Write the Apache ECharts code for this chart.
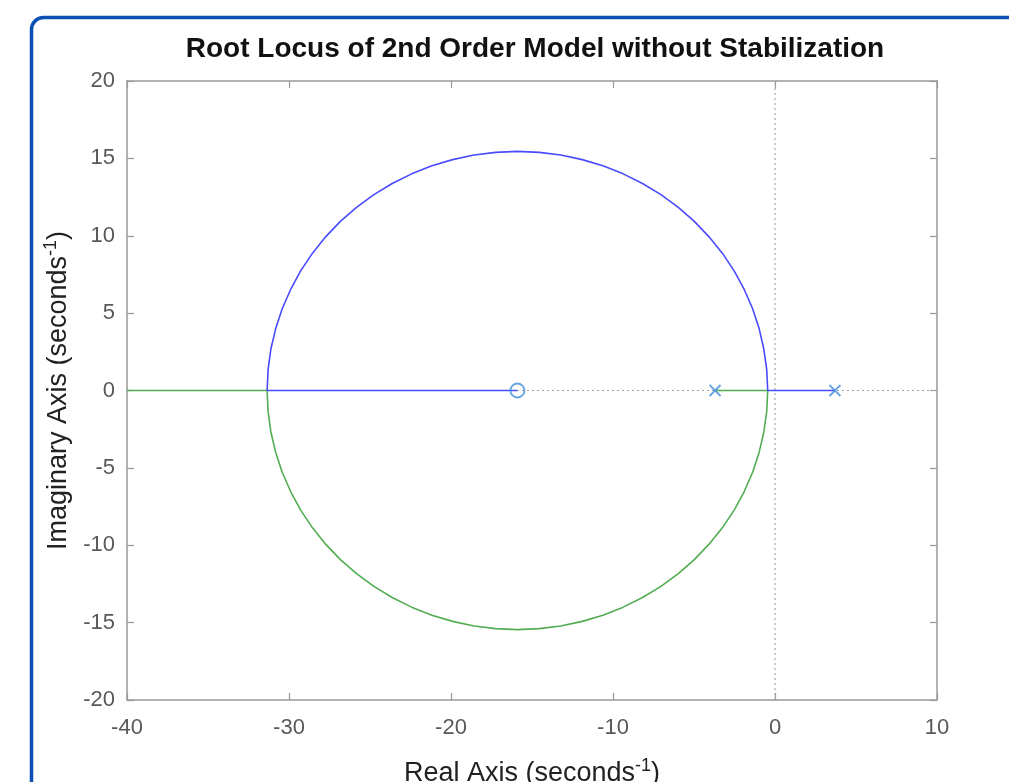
<!DOCTYPE html>
<html>
<head>
<meta charset="utf-8">
<script src="https://cdn.jsdelivr.net/npm/echarts@6/dist/echarts.min.js"></script>
<style>
html,body{margin:0;padding:0;background:#fff;}
#main{width:1009px;height:782px;}
</style>
</head>
<body>
<div id="main"></div>
<script>
// root locus
var zeroPt = [[-15.9, 0]];
var polePts = [[-3.7, 0], [3.7, 0]];
// blue branch: pole +3.7 -> breakaway -> upper arc -> break-in -> zero
var blueBranch = [
    [3.7, 0], [-0.45, 0], [-0.51, 1.35], [-0.69, 2.68], [-0.98, 4.0], [-1.38, 5.28],
    [-1.9, 6.53], [-2.52, 7.73], [-3.24, 8.86], [-4.07, 9.93], [-4.98, 10.93],
    [-5.97, 11.84], [-7.04, 12.66], [-8.18, 13.38], [-9.37, 14.0], [-10.62, 14.52],
    [-11.9, 14.92], [-13.22, 15.22], [-14.55, 15.39], [-15.9, 15.45], [-17.25, 15.39],
    [-18.58, 15.22], [-19.9, 14.92], [-21.18, 14.52], [-22.43, 14.0], [-23.63, 13.38],
    [-24.76, 12.66], [-25.83, 11.84], [-26.83, 10.93], [-27.74, 9.93], [-28.56, 8.86],
    [-29.28, 7.73], [-29.9, 6.53], [-30.42, 5.28], [-30.82, 4.0], [-31.12, 2.68],
    [-31.29, 1.35], [-31.35, 0], [-15.9, 0]
];
// green branch: pole -3.7 -> breakaway -> lower arc -> break-in -> -inf
var greenBranch = [
    [-3.7, 0], [-0.45, 0], [-0.51, -1.35], [-0.69, -2.68], [-0.98, -4.0], [-1.38, -5.28],
    [-1.9, -6.53], [-2.52, -7.73], [-3.24, -8.86], [-4.07, -9.93], [-4.98, -10.93],
    [-5.97, -11.84], [-7.04, -12.66], [-8.18, -13.38], [-9.37, -14.0], [-10.62, -14.52],
    [-11.9, -14.92], [-13.22, -15.22], [-14.55, -15.39], [-15.9, -15.45], [-17.25, -15.39],
    [-18.58, -15.22], [-19.9, -14.92], [-21.18, -14.52], [-22.43, -14.0], [-23.63, -13.38],
    [-24.76, -12.66], [-25.83, -11.84], [-26.83, -10.93], [-27.74, -9.93], [-28.56, -8.86],
    [-29.28, -7.73], [-29.9, -6.53], [-30.42, -5.28], [-30.82, -4.0], [-31.12, -2.68],
    [-31.29, -1.35], [-31.35, 0], [-40, 0]
];
var realZeroLine = [[-40, 0], [10, 0]];
var imagZeroLine = [[0, -20], [0, 20]];

var chart = echarts.init(document.getElementById('main'));
var axisGray = '#999';
var labelGray = '#595959';
var markBlue = '#3d8fd8';

function boxAxis(extra) {
    var a = {
        type: 'value',
        axisLine: {show: true, onZero: false, lineStyle: {color: axisGray, width: 1.5}},
        axisTick: {show: true, inside: true, length: 7, lineStyle: {color: axisGray, width: 1.2}},
        splitLine: {show: false},
        axisLabel: {show: false}
    };
    for (var k in extra) a[k] = extra[k];
    return a;
}

var option = {
    backgroundColor: '#fff',
    animation: false,
    title: {
        text: 'Root Locus of 2nd Order Model without Stabilization',
        left: 530, top: 30, textAlign: 'center',
        textStyle: {fontFamily: 'Liberation Sans', fontWeight: 'bold', fontSize: 28, color: '#111'}
    },
    grid: {left: 127, right: 72, top: 81, bottom: 82, containLabel: false, outerBoundsMode: 'none'},
    xAxis: [
        boxAxis({min: -40, max: 10, interval: 10, position: 'bottom',
            axisLabel: {show: true, margin: 17, color: labelGray, fontSize: 22, fontFamily: 'Liberation Sans'},
            name: 'Real Axis (seconds{sup|-1})', nameLocation: 'middle', nameGap: 57,
            nameTextStyle: {fontSize: 27, color: '#222', fontFamily: 'Liberation Sans',
                rich: {sup: {fontSize: 18, color: '#222', fontFamily: 'Liberation Sans', padding: [0, 0, 16, 0]}}}
        }),
        boxAxis({min: -40, max: 10, interval: 10, position: 'top'})
    ],
    yAxis: [
        boxAxis({min: -20, max: 20, interval: 5, position: 'left',
            axisLabel: {show: true, margin: 12, color: labelGray, fontSize: 22, fontFamily: 'Liberation Sans'},
            name: 'Imaginary Axis (seconds{sup|-1})', nameLocation: 'middle', nameGap: 47, nameRotate: 90,
            nameTextStyle: {fontSize: 27, color: '#222', fontFamily: 'Liberation Sans',
                rich: {sup: {fontSize: 18, color: '#222', fontFamily: 'Liberation Sans', padding: [0, 0, 16, 0]}}}
        }),
        boxAxis({min: -20, max: 20, interval: 5, position: 'right'})
    ],
    graphic: [{
        type: 'rect', z: -10,
        shape: {x: 31.5, y: 17.5, width: 1100, height: 900, r: 12},
        style: {fill: 'none', stroke: '#0b4fb3', lineWidth: 3.5}
    }],
    series: [
        {type: 'line', data: realZeroLine, symbol: 'none', silent: true,
            lineStyle: {color: '#a6a6a6', width: 1.2, type: [2, 3]}},
        {type: 'line', data: imagZeroLine, symbol: 'none', silent: true,
            lineStyle: {color: '#a6a6a6', width: 1.2, type: [2, 3]}},
        {type: 'line', data: greenBranch, symbol: 'none',
            lineStyle: {color: '#52ad52', width: 1.6}},
        {type: 'line', data: blueBranch, symbol: 'none',
            lineStyle: {color: '#4a4aff', width: 1.6}},
        {type: 'scatter', data: zeroPt, symbol: 'circle', symbolSize: 14, z: 5,
            itemStyle: {color: 'rgba(0,0,0,0)', borderColor: markBlue, borderWidth: 1.8}},
        {type: 'scatter', data: polePts, symbol: 'path://M0,0L10,10M10,0L0,10', symbolSize: 11, z: 5,
            itemStyle: {color: 'rgba(0,0,0,0)', borderColor: markBlue, borderWidth: 1.8}}
    ]
};
chart.setOption(option);
</script>
</body>
</html>
